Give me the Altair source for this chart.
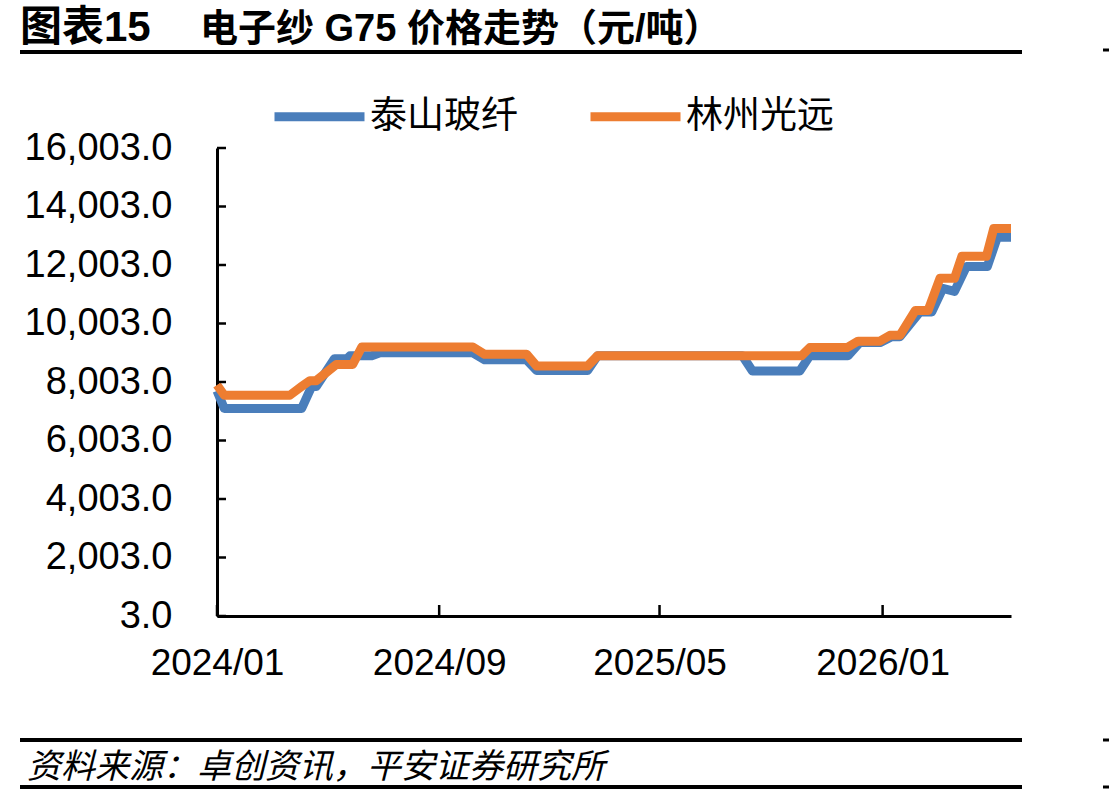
import altair as alt
import pandas as pd

# ---- data ----
series_names = ["泰山玻纤", "林州光远"]
series_colors = ["#4A7EBB", "#ED7D31"]

taishan_dates = [
    "2024-01-01", "2024-01-09", "2024-04-03", "2024-04-14", "2024-04-19",
    "2024-05-09", "2024-05-23", "2024-05-26", "2024-06-19", "2024-06-28",
    "2024-10-08", "2024-10-21", "2024-12-06", "2024-12-17", "2025-02-11",
    "2025-02-22", "2025-07-31", "2025-08-11", "2025-10-02", "2025-10-13",
    "2025-11-24", "2025-12-07", "2025-12-29", "2026-01-11", "2026-01-20",
    "2026-02-11", "2026-02-24", "2026-03-08", "2026-03-21", "2026-04-03",
    "2026-04-26", "2026-05-07", "2026-05-22",
]
taishan_values = [
    7700, 7100, 7100, 7850, 7850,
    8800, 8800, 8900, 8900, 9000,
    9000, 8760, 8760, 8400, 8400,
    8900, 8900, 8380, 8380, 8900,
    8900, 9350, 9350, 9550, 9550,
    10400, 10400, 11200, 11100, 11950,
    11950, 12950, 12950,
]

linzhou_dates = [
    "2024-01-01", "2024-01-09", "2024-03-21", "2024-04-03", "2024-04-12",
    "2024-04-19", "2024-05-11", "2024-05-29", "2024-06-08", "2024-10-08",
    "2024-10-21", "2024-12-06", "2024-12-17", "2025-02-11", "2025-02-22",
    "2025-10-04", "2025-10-13", "2025-11-23", "2025-12-05", "2025-12-29",
    "2026-01-09", "2026-01-20", "2026-02-06", "2026-02-20", "2026-03-05",
    "2026-03-21", "2026-03-29", "2026-04-25", "2026-05-03", "2026-05-22",
]
linzhou_values = [
    7900, 7550, 7550, 7850, 8050,
    8050, 8600, 8600, 9200, 9200,
    8950, 8950, 8550, 8550, 8900,
    8900, 9180, 9180, 9400, 9400,
    9600, 9600, 10450, 10450, 11550,
    11550, 12300, 12300, 13250, 13250,
]

y_ticks = [3, 2003, 4003, 6003, 8003, 10003, 12003, 14003, 16003]
x_ticks = ["2024-01-01", "2024-09-01", "2025-05-01", "2026-01-01"]

title_left = "图表15"
title_right = "电子纱 G75 价格走势（元/吨）"
source_text = "资料来源：卓创资讯，平安证券研究所"

FONT = "Liberation Sans, Arial, Noto Sans CJK SC"
W, H = 794, 468

# ---- tables ----
df = pd.concat([
    pd.DataFrame({"date": pd.to_datetime(taishan_dates), "value": taishan_values, "series": series_names[0]}),
    pd.DataFrame({"date": pd.to_datetime(linzhou_dates), "value": linzhou_values, "series": series_names[1]}),
])
xt = pd.DataFrame({"date": pd.to_datetime(x_ticks)})
yt = pd.DataFrame({"v": y_ticks})

x_scale = alt.Scale(domain=[alt.DateTime(year=2024, month=1, date=1),
                            alt.DateTime(year=2026, month=5, date=22)], nice=False)
y_scale = alt.Scale(domain=[3, 16003], nice=False, zero=False)
color_scale = alt.Scale(domain=series_names, range=series_colors)

x_axis = alt.Axis(
    values=[alt.DateTime(year=2024, month=1, date=1), alt.DateTime(year=2024, month=9, date=1),
            alt.DateTime(year=2025, month=5, date=1), alt.DateTime(year=2026, month=1, date=1)],
    labelExpr="timeFormat(datum.value, '%Y/%m')",
    title=None, grid=False, ticks=False, tickSize=0,
    domainColor="black", domainWidth=3,
    labelFont=FONT, labelFontSize=37, labelColor="black", labelPadding=29,
    labelFlush=False, labelOverlap=False,
)
y_axis = alt.Axis(
    values=y_ticks, format=",.1f",
    title=None, grid=False, ticks=False, tickSize=0,
    domainColor="black", domainWidth=3,
    labelFont=FONT, labelFontSize=38, labelColor="black", labelPadding=45,
)

legend = alt.Legend(
    orient="none", legendX=53, legendY=-81, direction="horizontal", title=None,
    symbolType="stroke", symbolStrokeWidth=9, symbolSize=8100,
    labelFont=FONT, labelFontSize=37, labelColor="black", labelOffset=1,
    columnPadding=54, labelLimit=400,
)

base = alt.Chart(df)

blue = base.transform_filter(alt.datum.series == series_names[0]).mark_line(
    strokeWidth=9, strokeJoin="round", strokeCap="butt", clip=False
).encode(
    x=alt.X("date:T", scale=x_scale, axis=x_axis),
    y=alt.Y("value:Q", scale=y_scale, axis=y_axis),
    color=alt.Color("series:N", scale=color_scale, legend=legend),
)
orange = base.transform_filter(alt.datum.series == series_names[1]).mark_line(
    strokeWidth=9, strokeJoin="round", strokeCap="butt", clip=False
).encode(
    x=alt.X("date:T", scale=x_scale),
    y=alt.Y("value:Q", scale=y_scale),
    color=alt.Color("series:N", scale=color_scale, legend=legend),
)

x_tick_marks = alt.Chart(xt).mark_rule(color="black", strokeWidth=2.5).encode(
    x=alt.X("date:T", scale=x_scale),
    y=alt.value(H - 11), y2=alt.value(H),
)
y_tick_marks = alt.Chart(yt).mark_rule(color="black", strokeWidth=2.5).encode(
    y=alt.Y("v:Q", scale=y_scale),
    x=alt.value(0), x2=alt.value(9),
)

t1 = alt.Chart(pd.DataFrame({"t": [title_left]})).mark_text(
    font=FONT, fontSize=42, fontWeight="bold", align="left", baseline="alphabetic", color="black"
).encode(text="t:N", x=alt.value(20 - 217), y=alt.value(41 - 148))
t2 = alt.Chart(pd.DataFrame({"t": [title_right]})).mark_text(
    font=FONT, fontSize=38, fontWeight="bold", align="left", baseline="alphabetic", color="black"
).encode(text="t:N", x=alt.value(200 - 217), y=alt.value(41 - 148))

src = alt.Chart(pd.DataFrame({"t": [source_text]})).mark_text(
    font=FONT, fontSize=34, fontStyle="italic", align="left", baseline="alphabetic", color="black"
).encode(text="t:N", x=alt.value(27 - 217), y=alt.value(778 - 148))

def hline(y, x1, x2, w):
    return alt.Chart(pd.DataFrame({"a": [0]})).mark_rule(color="black", strokeWidth=w).encode(
        x=alt.value(x1 - 217), x2=alt.value(x2 - 217), y=alt.value(y - 148)
    )

lines = [
    hline(52, 20, 1022, 4), hline(740, 20, 1022, 4), hline(787, 20, 1022, 4),
    hline(50, 1103, 1112, 3), hline(740, 1103, 1112, 3), hline(787, 1103, 1112, 3),
]

chart = alt.layer(
    blue, orange, x_tick_marks, y_tick_marks, t1, t2, src, *lines
).resolve_scale(color="shared").properties(
    width=W, height=H,
    autosize=alt.AutoSizeParams(type="none"),
    padding={"left": 217, "top": 148, "right": 98, "bottom": 180},
    background="white",
).configure_view(stroke=None)

chart.save("out.html", embed_options={"renderer": "svg", "actions": False})
